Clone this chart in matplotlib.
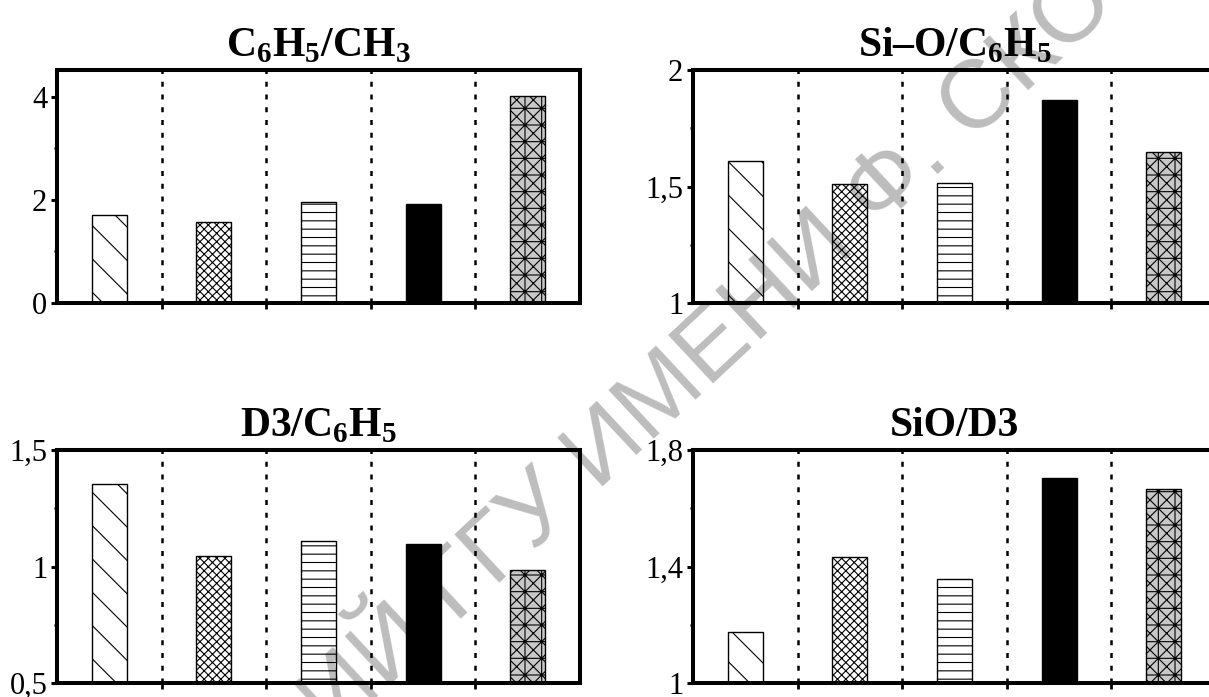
import matplotlib
matplotlib.use('Agg')
import matplotlib.pyplot as plt
from matplotlib.ticker import FixedLocator, FuncFormatter

# values, five samples per panel
samples = [0, 1, 2, 3, 4]
c6h5_ch3 = [1.70, 1.57, 1.95, 1.93, 4.02]
sio_c6h5 = [1.61, 1.51, 1.515, 1.87, 1.648]
d3_c6h5 = [1.355, 1.046, 1.108, 1.098, 0.985]
sio_d3 = [1.176, 1.433, 1.357, 1.705, 1.667]

titles = ['C$_\\mathbf{6}$H$_\\mathbf{5}$/CH$_\\mathbf{3}$',
          'Si–O/C$_\\mathbf{6}$H$_\\mathbf{5}$',
          'D3/C$_\\mathbf{6}$H$_\\mathbf{5}$',
          'SiO/D3']
ylims = [(0, 4.52), (1, 2), (0.5, 1.5), (1, 1.8)]
major_ticks = [[0, 2, 4], [1, 1.5, 2], [0.5, 1, 1.5], [1, 1.4, 1.8]]
minor_ticks = [[1, 3], [1.25, 1.75], [0.75, 1.25], [1.2, 1.6]]

hatches = ['\\', 'xxxx', '--', '', 'xx+']
faces = ['none', 'none', 'none', 'black', '#c8c8c8']

plt.rcParams['font.family'] = 'Liberation Serif'
plt.rcParams['mathtext.fontset'] = 'custom'
plt.rcParams['mathtext.rm'] = 'Liberation Serif'
plt.rcParams['mathtext.bf'] = 'Liberation Serif:bold'
plt.rcParams['hatch.linewidth'] = 0.8

W, H = 1209, 697
fig = plt.figure(figsize=(W / 100, H / 100), dpi=100)
fig.patch.set_facecolor('white')

# axes boxes in pixels: left, top, width, height
boxes = [(57, 70, 523, 233), (693, 70, 523, 233),
         (57, 450, 523, 233), (693, 450, 523, 233)]
data = [c6h5_ch3, sio_c6h5, d3_c6h5, sio_d3]


def comma(v, pos):
    return f'{v:g}'.replace('.', ',')


for i, (l, t, w, h) in enumerate(boxes):
    ax = fig.add_axes([l / W, (H - t - h) / H, w / W, h / H])
    ax.set_facecolor('none')
    bars = ax.bar(samples, data[i], width=0.335, color=faces,
                  edgecolor='black', linewidth=1.0)
    for b, hp in zip(bars, hatches):
        b.set_hatch(hp)
    ax.set_xlim(-0.5, 4.5)
    ax.set_ylim(*ylims[i])
    ax.set_xticks([0.5, 1.5, 2.5, 3.5])
    ax.set_xticklabels([])
    ax.yaxis.set_major_locator(FixedLocator(major_ticks[i]))
    ax.yaxis.set_minor_locator(FixedLocator(minor_ticks[i]))
    ax.yaxis.set_major_formatter(FuncFormatter(comma))
    ax.tick_params(axis='y', which='major', direction='out', length=4,
                   width=2.2, labelsize=22, pad=3)
    ax.tick_params(axis='y', which='minor', direction='out', length=2,
                   width=1.8)
    ax.tick_params(axis='x', direction='out', length=4, width=2.0)
    ax.set_axisbelow(True)
    ax.xaxis.grid(True, color='black', linewidth=1.8,
                  linestyle=(0, (2, 3.1)))
    for s in ax.spines.values():
        s.set_linewidth(2.9)
    ax.set_title(titles[i], fontsize=30, fontweight='bold', pad=10)

# repository watermark, faint grey, behind the plots
fig.text(0.493, 0.343, 'РЕПОЗИТОРИЙ ГГУ ИМЕНИ Ф. СКОРИНЫ',
         rotation=43, fontsize=70, color='#bdbdbd', ha='center',
         va='center', family='Liberation Sans', zorder=-1)

fig.savefig('out.png', dpi=100)
